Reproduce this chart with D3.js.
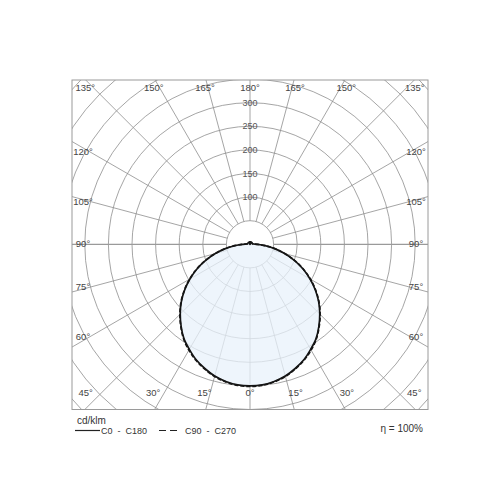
<!DOCTYPE html>
<html>
<head>
<meta charset="utf-8">
<script src="https://cdn.jsdelivr.net/npm/d3@7"></script>
<style>
  html, body { margin: 0; padding: 0; background: #fff; }
  svg { display: block; font-family: "Liberation Sans", "DejaVu Sans", sans-serif; }
  .pre { white-space: pre; }
</style>
</head>
<body>
<div id="chart"></div>
<script>
// gamma angles (deg from nadir) and intensities in cd/klm
var gammaAngles = d3.range(0, 181, 5);
var c0c180 = [300, 299, 295, 289, 280, 270, 257, 244, 227, 209, 190, 169, 147, 124, 100, 76, 53, 32, 15,
              8, 6, 5, 5, 5, 5, 5, 5, 5, 5, 5, 5, 5, 5, 5, 5, 5, 0];
var c90c270 = [301, 300, 296, 290, 281, 271, 259, 245, 228, 210, 191, 170, 148, 125, 101, 77, 54, 33, 16,
               8, 6, 5, 5, 5, 5, 5, 5, 5, 5, 5, 5, 5, 5, 5, 5, 5, 0];
var ringValues = d3.range(50, 501, 50);
var ringLabels = [100, 150, 200, 250, 300];
var rayAngles = d3.range(0, 360, 15);
var angleLabels = d3.range(0, 181, 15);

(function() {
  var width = 500
    , height = 500
    , cx = 250
    , cy = 244.3
    , frame = { x0: 72, y0: 80, x1: 428, y1: 409.5 }
    , rad = Math.PI / 180
    , r = d3.scaleLinear().domain([0, 300]).range([0, 141.6])
    , gridColor = "#8e8e8e"
    ;

  var svg = d3.select('#chart')
        .append('svg')
          .attr('width', width)
          .attr('height', height)
    , defs = svg.append('defs')
    ;

  defs.append('clipPath').attr('id', 'frameClip')
    .append('rect')
      .attr('x', frame.x0).attr('y', frame.y0)
      .attr('width', frame.x1 - frame.x0).attr('height', frame.y1 - frame.y0);

  var gGrid = svg.append('g')
        .attr('clip-path', 'url(#frameClip)')
    , gPlot = gGrid.append('g')
        .attr('transform', 'translate(' + cx + ',' + cy + ')')
    ;

  // rings
  gPlot.append('g').selectAll('circle')
    .data(ringValues)
    .enter()
    .append('circle')
      .attr('r', d => r(d))
      .attr('fill', 'none')
      .attr('stroke', gridColor)
      .attr('stroke-width', 0.8);

  // rays every 15 deg, starting at the 50 ring
  gPlot.append('g').selectAll('line')
    .data(rayAngles)
    .enter()
    .append('line')
      .attr('x1', d => r(50) * Math.sin(d * rad))
      .attr('y1', d => r(50) * Math.cos(d * rad))
      .attr('x2', d => r(700) * Math.sin(d * rad))
      .attr('y2', d => r(700) * Math.cos(d * rad))
      .attr('stroke', d => (d % 180 === 90) ? "#9a9a9a" : gridColor)
      .attr('stroke-width', d => (d % 180 === 90) ? 1.2 : 0.8);

  // full polar outline: right half then left half
  function outline(values) {
    var pts = [];
    gammaAngles.slice().reverse().forEach(function(g, i) {
      var v = values[gammaAngles.length - 1 - i];
      pts.push({ a: Math.PI - g * rad, v: v });
    });
    gammaAngles.forEach(function(g, i) {
      if (g === 0 || g === 180) return;
      pts.push({ a: Math.PI + g * rad, v: values[i] });
    });
    return pts;
  }

  var radial = d3.lineRadial()
    .angle(d => d.a)
    .radius(d => r(d.v))
    .curve(d3.curveCatmullRomClosed.alpha(0.5));

  gPlot.append('path')
    .attr('d', radial(outline(c0c180)))
    .attr('fill', '#e8f1fb')
    .attr('fill-opacity', 0.75)
    .attr('stroke', 'none');

  gPlot.append('path')
    .attr('d', radial(outline(c0c180)))
    .attr('fill', 'none')
    .attr('stroke', '#151515')
    .attr('stroke-width', 1.7);

  gPlot.append('path')
    .attr('d', radial(outline(c90c270)))
    .attr('fill', 'none')
    .attr('stroke', '#151515')
    .attr('stroke-width', 1.7)
    .attr('stroke-dasharray', '4,2');

  // ring value labels on the vertical axis
  gPlot.append('g').selectAll('text')
    .data(ringLabels)
    .enter()
    .append('text')
      .attr('x', 0)
      .attr('y', d => -r(d) + 3)
      .attr('text-anchor', 'middle')
      .attr('font-size', 9)
      .attr('fill', '#555')
      .text(d => d);

  // frame
  svg.append('rect')
    .attr('x', frame.x0).attr('y', frame.y0)
    .attr('width', frame.x1 - frame.x0).attr('height', frame.y1 - frame.y0)
    .attr('fill', 'none')
    .attr('stroke', '#9a9a9a')
    .attr('stroke-width', 1);

  // angle labels along the frame
  var labelData = [];
  angleLabels.forEach(function(g) {
    labelData.push({ g: g, side: 1 });
    if (g !== 0 && g !== 180) labelData.push({ g: g, side: -1 });
  });

  function labelPos(d) {
    var s = Math.sin(d.g * rad), c = Math.cos(d.g * rad)
      , hx = 166, hyTop = cy - 88, hyBot = 393 - cy
      , tx = s > 1e-6 ? hx / s : Infinity
      , ty = c > 1e-6 ? hyBot / c : (c < -1e-6 ? hyTop / -c : Infinity)
      , x, y;
    if (ty < tx) {
      // top / bottom rows, nudged outward
      x = cx + d.side * s * ty + d.side * s * (c > 0 ? 22 : 12);
      y = c > 0 ? 393 : 88;
      x = Math.max(85, Math.min(415, x));
    } else {
      x = cx + d.side * (d.side > 0 ? 166 : 167);
      y = cy + c * tx - c * 7;
    }
    return [x, y];
  }

  svg.append('g').selectAll('text')
    .data(labelData)
    .enter()
    .append('text')
      .attr('x', d => labelPos(d)[0])
      .attr('y', d => labelPos(d)[1] + 3)
      .attr('text-anchor', 'middle')
      .attr('font-size', 9.5)
      .attr('fill', '#444')
      .text(d => d.g + '\u00b0');

  // legend
  var gLegend = svg.append('g')
    .attr('font-size', 9)
    .attr('fill', '#333');

  gLegend.append('text')
    .attr('x', 77).attr('y', 424)
    .attr('font-size', 10)
    .text('cd/klm');

  gLegend.append('line')
    .attr('x1', 75).attr('x2', 100).attr('y1', 430.5).attr('y2', 430.5)
    .attr('stroke', '#222').attr('stroke-width', 1.2);

  gLegend.append('text')
    .attr('class', 'pre')
    .attr('x', 101).attr('y', 434)
    .text('C0  -  C180');

  gLegend.append('line')
    .attr('x1', 159).attr('x2', 180).attr('y1', 430.5).attr('y2', 430.5)
    .attr('stroke', '#222').attr('stroke-width', 1.2)
    .attr('stroke-dasharray', '7,4');

  gLegend.append('text')
    .attr('class', 'pre')
    .attr('x', 185).attr('y', 434)
    .text('C90  -  C270');

  gLegend.append('text')
    .attr('x', 423).attr('y', 432)
    .attr('text-anchor', 'end')
    .attr('font-size', 10)
    .text('\u03b7 = 100%');
})();
</script>
</body>
</html>
